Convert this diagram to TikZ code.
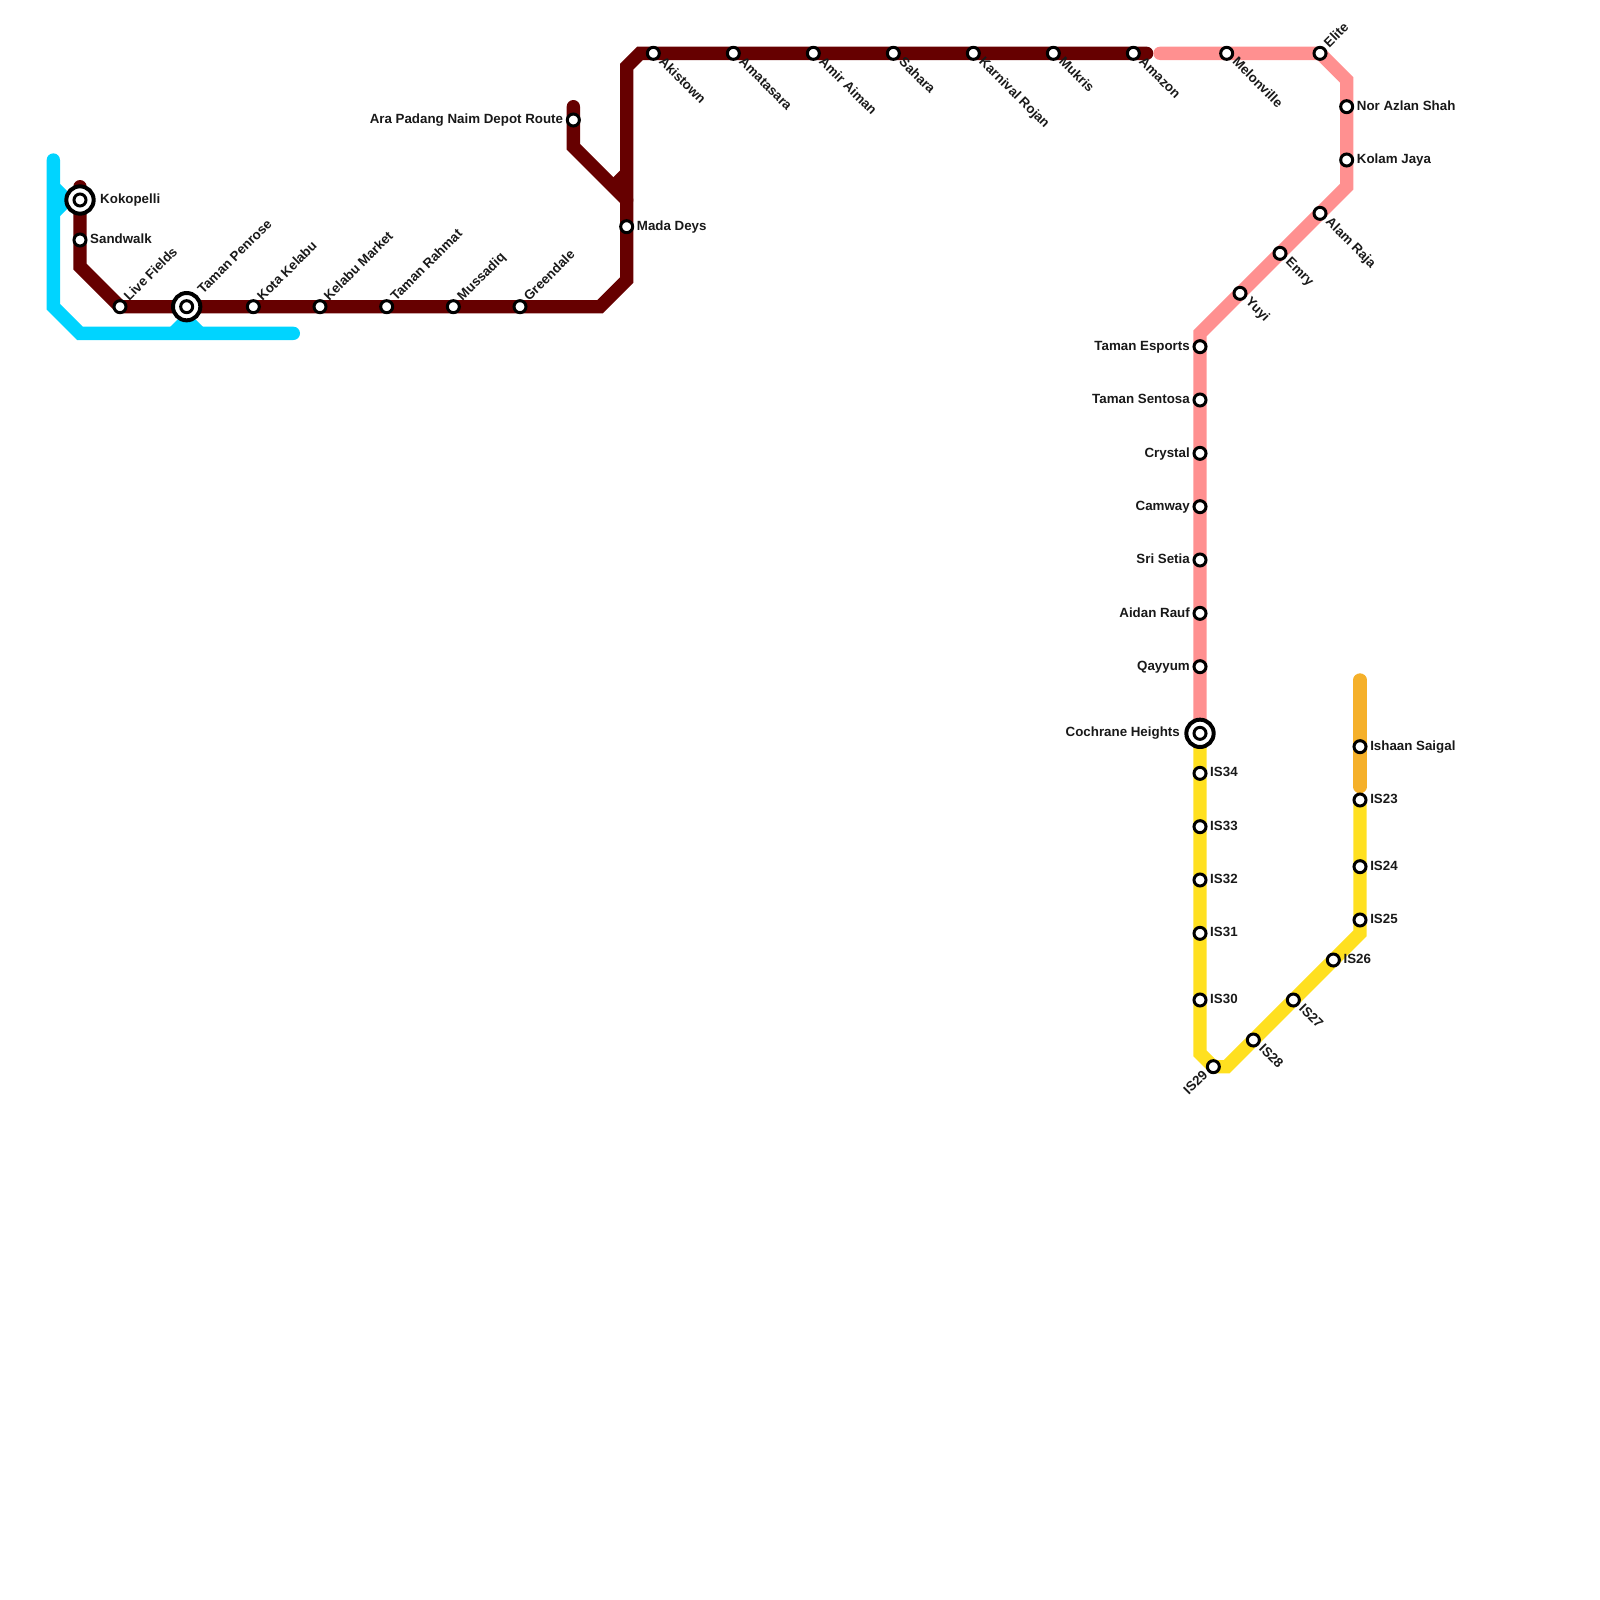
\documentclass[tikz,border=0pt]{standalone}
\usepackage{fontspec}
\setmainfont{Liberation Sans}
\usetikzlibrary{backgrounds}

\begin{document}
\begin{tikzpicture}[
x=0.4cm,y=-0.4cm,
route/.style={line width=0.4cm,line cap=round,miter limit=10},
stn/.style={circle,draw=black,fill=white,line width=0.09cm,minimum size=0.36cm,inner sep=0pt},
hub/.style={circle,draw=black,fill=white,line width=0.12cm,minimum size=0.82cm,inner sep=0pt},
lbl/.style={inner sep=0pt,text=black!90,font=\fontsize{11.38}{12}\selectfont\bfseries,text height=0.72em,text depth=0.2em},
lblr/.style={lbl,anchor=west,xshift=0.3cm,yshift=-0.01cm},
lbll/.style={lbl,anchor=east,xshift=-0.3cm,yshift=-0.02cm},
hubr/.style={lbl,anchor=west,xshift=0.6cm},
hubl/.style={lbl,anchor=east,xshift=-0.6cm},
lblne/.style={lbl,anchor=west,rotate=45,xshift=0.3cm},
hubne/.style={lbl,anchor=west,rotate=45,xshift=0.6cm},
lblse/.style={lbl,anchor=west,rotate=-45,xshift=0.3cm},
lblsw/.style={lbl,anchor=east,rotate=45,xshift=-0.3cm}
]
\useasboundingbox (0,0) rectangle (120,120);
\definecolor{skyline}{HTML}{00D4FF}
\definecolor{maroonline}{HTML}{660000}
\definecolor{pinkline}{HTML}{FF9090}
\definecolor{yellowline}{HTML}{FFE020}
\definecolor{orangeline}{HTML}{F5B02A}

% interchange rings
\node[hub] (kokopellihub) at (6,15) {};
\node[hub] (penrosehub) at (14,23) {};
\node[hub] (cochranehub) at (90,55) {};

% stations
\node[stn] (kokopelli) at (6,15) {};
\node[stn] (sandwalk) at (6,18) {};
\node[stn] (livefields) at (9,23) {};
\node[stn] (penrose) at (14,23) {};
\node[stn] (kotakelabu) at (19,23) {};
\node[stn] (kelabumarket) at (24,23) {};
\node[stn] (rahmat) at (29,23) {};
\node[stn] (mussadiq) at (34,23) {};
\node[stn] (greendale) at (39,23) {};
\node[stn] (madadeys) at (47,17) {};
\node[stn] (depot) at (43,9) {};
\node[stn] (akistown) at (49,4) {};
\node[stn] (amatasara) at (55,4) {};
\node[stn] (amiraiman) at (61,4) {};
\node[stn] (sahara) at (67,4) {};
\node[stn] (karnival) at (73,4) {};
\node[stn] (mukris) at (79,4) {};
\node[stn] (amazon) at (85,4) {};
\node[stn] (melonville) at (92,4) {};
\node[stn] (elite) at (99,4) {};
\node[stn] (norazlan) at (101,8) {};
\node[stn] (kolamjaya) at (101,12) {};
\node[stn] (alamraja) at (99,16) {};
\node[stn] (emry) at (96,19) {};
\node[stn] (yuyi) at (93,22) {};
\node[stn] (esports) at (90,26) {};
\node[stn] (sentosa) at (90,30) {};
\node[stn] (crystal) at (90,34) {};
\node[stn] (camway) at (90,38) {};
\node[stn] (srisetia) at (90,42) {};
\node[stn] (aidanrauf) at (90,46) {};
\node[stn] (qayyum) at (90,50) {};
\node[stn] (cochrane) at (90,55) {};
\node[stn] (isthirtyfour) at (90,58) {};
\node[stn] (isthirtythree) at (90,62) {};
\node[stn] (isthirtytwo) at (90,66) {};
\node[stn] (isthirtyone) at (90,70) {};
\node[stn] (isthirty) at (90,75) {};
\node[stn] (istwentynine) at (91,80) {};
\node[stn] (istwentyeight) at (94,78) {};
\node[stn] (istwentyseven) at (97,75) {};
\node[stn] (istwentysix) at (100,72) {};
\node[stn] (istwentyfive) at (102,69) {};
\node[stn] (istwentyfour) at (102,65) {};
\node[stn] (istwentythree) at (102,60) {};
\node[stn] (ishaan) at (102,56) {};

% labels
\node[hubr] (tkokopelli) at (kokopelli) {Kokopelli};
\node[lblr] (tsandwalk) at (sandwalk) {Sandwalk};
\node[lblne] (tlivefields) at (livefields) {Live Fields};
\node[hubne] (tpenrose) at (penrose) {Taman Penrose};
\node[lblne] (tkotakelabu) at (kotakelabu) {Kota Kelabu};
\node[lblne] (tkelabumarket) at (kelabumarket) {Kelabu Market};
\node[lblne] (trahmat) at (rahmat) {Taman Rahmat};
\node[lblne] (tmussadiq) at (mussadiq) {Mussadiq};
\node[lblne] (tgreendale) at (greendale) {Greendale};
\node[lblr] (tmadadeys) at (madadeys) {Mada Deys};
\node[lbll] (tdepot) at (depot) {Ara Padang Naim Depot Route};
\node[lblse] (takistown) at (akistown) {Akistown};
\node[lblse] (tamatasara) at (amatasara) {Amatasara};
\node[lblse] (tamiraiman) at (amiraiman) {Amir Aiman};
\node[lblse] (tsahara) at (sahara) {Sahara};
\node[lblse] (tkarnival) at (karnival) {Karnival Rojan};
\node[lblse] (tmukris) at (mukris) {Mukris};
\node[lblse] (tamazon) at (amazon) {Amazon};
\node[lblse] (tmelonville) at (melonville) {Melonville};
\node[lblne] (telite) at (elite) {Elite};
\node[lblr] (tnorazlan) at (norazlan) {Nor Azlan Shah};
\node[lblr] (tkolamjaya) at (kolamjaya) {Kolam Jaya};
\node[lblse] (talamraja) at (alamraja) {Alam Raja};
\node[lblse] (temry) at (emry) {Emry};
\node[lblse] (tyuyi) at (yuyi) {Yuyi};
\node[lbll] (tesports) at (esports) {Taman Esports};
\node[lbll] (tsentosa) at (sentosa) {Taman Sentosa};
\node[lbll] (tcrystal) at (crystal) {Crystal};
\node[lbll] (tcamway) at (camway) {Camway};
\node[lbll] (tsrisetia) at (srisetia) {Sri Setia};
\node[lbll] (taidanrauf) at (aidanrauf) {Aidan Rauf};
\node[lbll] (tqayyum) at (qayyum) {Qayyum};
\node[hubl] (tcochrane) at (cochrane) {Cochrane Heights};
\node[lblr] (tisthirtyfour) at (isthirtyfour) {IS34};
\node[lblr] (tisthirtythree) at (isthirtythree) {IS33};
\node[lblr] (tisthirtytwo) at (isthirtytwo) {IS32};
\node[lblr] (tisthirtyone) at (isthirtyone) {IS31};
\node[lblr] (tisthirty) at (isthirty) {IS30};
\node[lblsw] (tistwentynine) at (istwentynine) {IS29};
\node[lblse] (tistwentyeight) at (istwentyeight) {IS28};
\node[lblse] (tistwentyseven) at (istwentyseven) {IS27};
\node[lblr] (tistwentysix) at (istwentysix) {IS26};
\node[lblr] (tistwentyfive) at (istwentyfive) {IS25};
\node[lblr] (tistwentyfour) at (istwentyfour) {IS24};
\node[lblr] (tistwentythree) at (istwentythree) {IS23};
\node[lblr] (tishaan) at (ishaan) {Ishaan Saigal};

% free ends and bends
\coordinate (skytop) at (4,12);
\coordinate (skybend) at (4,23);
\coordinate (skyfoot) at (6,25);
\coordinate (skyend) at (22,25);
\coordinate (skyforka) at (4,14);
\coordinate (skyforkb) at (5,15);
\coordinate (skyforkc) at (4,16);
\coordinate (skyforkd) at (13,25);
\coordinate (skyforke) at (14,24);
\coordinate (skyforkf) at (15,25);
\coordinate (maroontop) at (6,14);
\coordinate (maroona) at (6,20);
\coordinate (maroonb) at (45,23);
\coordinate (maroonc) at (47,21);
\coordinate (maroond) at (47,5);
\coordinate (maroone) at (48,4);
\coordinate (maroonend) at (86,4);
\coordinate (depottop) at (43,8);
\coordinate (depota) at (43,11);
\coordinate (depotb) at (47,15);
\coordinate (depotc) at (46,14);
\coordinate (depotd) at (47,13);
\coordinate (pinkstart) at (87,4);
\coordinate (pinka) at (101,6);
\coordinate (pinkb) at (101,14);
\coordinate (pinkc) at (90,25);
\coordinate (yellowa) at (90,79);
\coordinate (yellowb) at (92,80);
\coordinate (yellowc) at (102,70);
\coordinate (orangetop) at (102,51);
\coordinate (orangeend) at (102,59);

\begin{scope}[on background layer]
\draw[route,skyline] (skytop) -- (skybend) -- (skyfoot) -- (skyend);
\draw[route,skyline,line cap=butt] (skyforka) -- (skyforkb) -- (skyforkc);
\draw[route,skyline,line cap=butt] (skyforkd) -- (skyforke) -- (skyforkf);
\draw[route,maroonline] (maroontop) -- (sandwalk.center) -- (maroona) -- (livefields.center) -- (maroonb) -- (maroonc) -- (maroond) -- (maroone) -- (maroonend);
\draw[route,maroonline] (depottop) -- (depota) -- (depotb);
\draw[route,maroonline,line cap=butt] (depotc) -- (depotd);
\draw[route,pinkline] (pinkstart) -- (elite.center) -- (pinka) -- (pinkb) -- (pinkc) -- (cochrane.center);
\draw[route,yellowline] (cochrane.center) -- (yellowa) -- (istwentynine.center) -- (yellowb) -- (yellowc) -- (istwentythree.center);
\draw[route,orangeline] (orangetop) -- (orangeend);
\end{scope}
\end{tikzpicture}
\end{document}
